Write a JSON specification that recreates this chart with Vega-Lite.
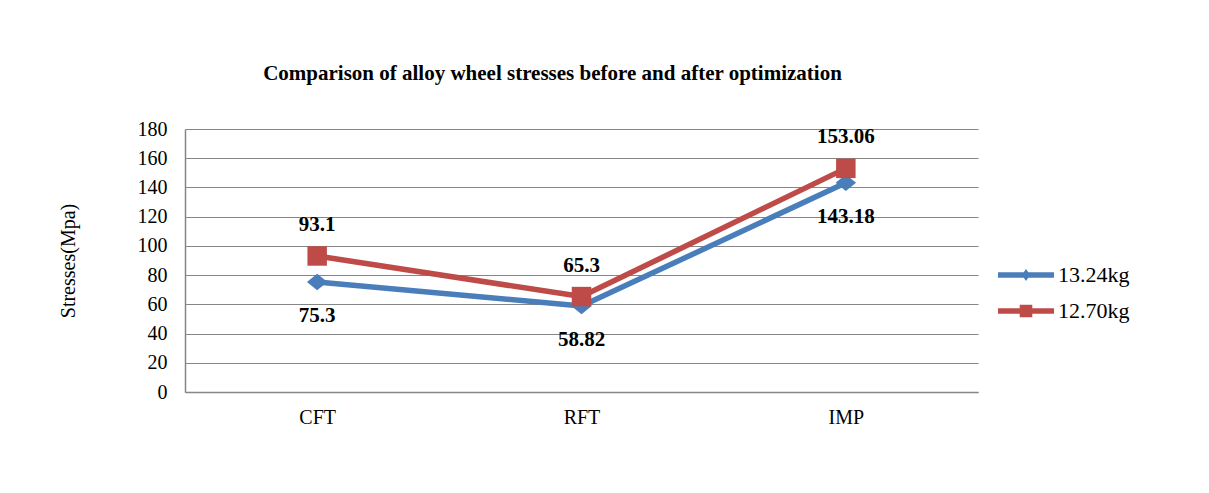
{
  "$schema": "https://vega.github.io/schema/vega-lite/v6.json",
  "autosize": {"type": "none"},
  "width": 793,
  "height": 263,
  "padding": {"left": 185, "top": 129, "right": 231, "bottom": 101},
  "background": "white",
  "title": {
    "text": "Comparison of alloy wheel stresses before and after optimization",
    "font": "Liberation Serif",
    "fontSize": 21,
    "fontWeight": "bold",
    "color": "#000000",
    "anchor": "middle",
    "dx": -29,
    "baseline": "alphabetic",
    "offset": 18
  },
  "data": {
    "values": [
      {"test": "CFT", "series": "13.24kg", "stress": 75.3},
      {"test": "RFT", "series": "13.24kg", "stress": 58.82},
      {"test": "IMP", "series": "13.24kg", "stress": 143.18},
      {"test": "CFT", "series": "12.70kg", "stress": 93.1},
      {"test": "RFT", "series": "12.70kg", "stress": 65.3},
      {"test": "IMP", "series": "12.70kg", "stress": 153.06}
    ]
  },
  "config": {
    "view": {"stroke": null},
    "font": "Liberation Serif"
  },
  "encoding": {
    "x": {
      "field": "test",
      "type": "nominal",
      "sort": ["CFT", "RFT", "IMP"],
      "scale": {"type": "point", "padding": 0.5},
      "axis": {
        "title": null,
        "labelAngle": 0,
        "labelFont": "Liberation Serif",
        "labelFontSize": 20,
        "labelColor": "#000000",
        "labelPadding": 15,
        "ticks": false,
        "domain": true,
        "domainColor": "#868686",
        "domainWidth": 1.5,
        "grid": false
      }
    },
    "y": {
      "field": "stress",
      "type": "quantitative",
      "scale": {"domain": [0, 180], "nice": false, "zero": true},
      "axis": {
        "values": [0, 20, 40, 60, 80, 100, 120, 140, 160, 180],
        "title": "Stresses(Mpa)",
        "titleFont": "Liberation Serif",
        "titleFontSize": 20,
        "titleFontWeight": "normal",
        "titleColor": "#000000",
        "titleX": -117,
        "titleY": 131.5,
        "titleAngle": 270,
        "titleBaseline": "middle",
        "titleAlign": "center",
        "labelFont": "Liberation Serif",
        "labelFontSize": 20,
        "labelColor": "#000000",
        "labelPadding": 18,
        "ticks": false,
        "domain": true,
        "domainColor": "#868686",
        "domainWidth": 1.5,
        "grid": true,
        "gridColor": "#868686",
        "gridWidth": 1.2
      }
    }
  },
  "layer": [
    {
      "mark": {"type": "line", "strokeWidth": 5.5, "strokeCap": "round", "strokeJoin": "round"},
      "encoding": {
        "color": {
          "field": "series",
          "type": "nominal",
          "scale": {"domain": ["13.24kg", "12.70kg"], "range": ["#4A7EBB", "#BE4B48"]},
          "legend": {
            "title": null,
            "orient": "none",
            "legendX": 827,
            "legendY": 132,
            "padding": 0,
            "symbolSize": 784,
            "labelFont": "Liberation Serif",
            "labelFontSize": 22,
            "labelColor": "#000000",
            "labelOffset": 18,
            "rowPadding": 11,
            "encode": {
              "symbols": {
                "update": {
                  "shape": {"signal": "datum.value === '13.24kg' ? 'M-2,-0.2H2V0.2H-2Z M0,-0.42L0.3,0L0,0.42L-0.3,0Z' : 'M-2,-0.2H2V0.2H-2Z M-0.45,-0.45H0.45V0.45H-0.45Z'"},
                  "fill": {"scale": "color", "field": "value"},
                  "fillOpacity": {"value": 1},
                  "strokeWidth": {"value": 0}
                }
              }
            }
          }
        },
        "order": {"field": "series", "sort": "descending"}
      }
    },
    {
      "transform": [{"filter": "datum.series === '13.24kg'"}],
      "mark": {"type": "point", "filled": true, "opacity": 1, "shape": "M-1,0L0,-0.8L1,0L0,0.8Z", "size": 420, "color": "#4A7EBB"}
    },
    {
      "transform": [{"filter": "datum.series === '12.70kg'"}],
      "mark": {"type": "point", "filled": true, "opacity": 1, "shape": "square", "size": 380, "color": "#BE4B48"}
    },
    {
      "transform": [{"filter": "datum.series === '13.24kg'"}],
      "mark": {"type": "text", "font": "Liberation Serif", "fontSize": 21, "fontWeight": "bold", "color": "#000000", "baseline": "middle", "dy": 34},
      "encoding": {"text": {"field": "stress", "type": "quantitative"}}
    },
    {
      "transform": [{"filter": "datum.series === '12.70kg'"}],
      "mark": {"type": "text", "font": "Liberation Serif", "fontSize": 21, "fontWeight": "bold", "color": "#000000", "baseline": "middle", "dy": -31},
      "encoding": {"text": {"field": "stress", "type": "quantitative"}}
    }
  ]
}
